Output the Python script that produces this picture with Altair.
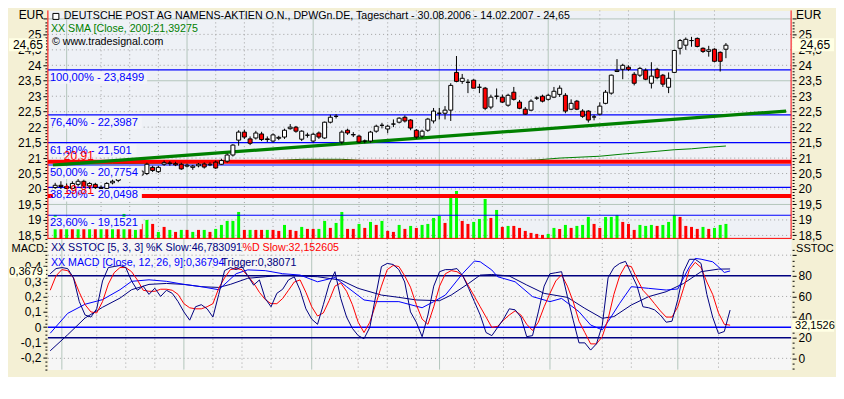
import altair as alt
import pandas as pd

FONT = "Liberation Sans"

# ---------------- data ----------------
opens = [20.05, 20.12, 20.08, 20.02, 20.15, 20.25, 20.10, 20.15, 20.05, 20.02,
         20.20, 20.28, 20.40, 20.50, 20.45, 20.45, 20.50, 20.70, 20.56, 20.80,
         20.82, 20.82, 20.80, 20.74, 20.70, 20.75, 20.81, 20.78, 20.87, 20.80,
         20.90, 21.10, 21.58, 21.84, 21.62, 21.65, 21.78, 21.62, 21.55, 21.64,
         21.68, 21.95, 22.00, 21.61, 21.74, 21.55, 21.81, 21.65, 22.16, 22.35,
         21.52, 21.90, 21.76, 21.71, 21.55, 21.55, 21.87, 22.06, 21.94, 22.10,
         22.16, 22.32, 22.23, 21.90, 21.71, 21.90, 22.20, 22.45, 22.45, 22.55,
         23.77, 23.48, 23.45, 23.52, 23.29, 23.26, 22.65, 23.00, 22.97, 22.71,
         23.13, 22.81, 22.58, 22.55, 22.94, 23.00, 22.90, 22.97, 23.06, 23.03,
         22.58, 22.84, 22.52, 22.52, 22.33, 22.42, 22.77, 23.10, 23.80, 23.87,
         23.94, 23.71, 23.68, 23.84, 23.42, 23.87, 23.68, 23.29, 23.77, 24.55,
         24.65, 24.80, 24.87, 24.55, 24.45, 24.52, 24.42, 24.52]
highs = [20.20, 20.25, 20.18, 20.25, 20.32, 20.30, 20.22, 20.20, 20.12, 20.22,
         20.30, 20.45, 20.55, 20.60, 20.60, 20.62, 20.85, 20.75, 20.75, 20.92,
         20.90, 20.88, 20.85, 20.82, 20.78, 20.84, 20.86, 20.86, 20.92, 20.98,
         21.15, 21.45, 21.90, 21.92, 21.70, 21.88, 21.85, 21.70, 21.80, 21.72,
         21.95, 22.10, 22.04, 21.90, 21.82, 21.82, 21.86, 22.18, 22.40, 22.42,
         21.90, 21.95, 21.84, 21.75, 21.60, 21.88, 22.08, 22.14, 22.08, 22.25,
         22.32, 22.38, 22.26, 21.94, 21.92, 22.30, 22.62, 22.62, 22.68, 23.42,
         24.30, 23.72, 23.55, 23.55, 23.40, 23.30, 23.05, 23.25, 23.05, 23.08,
         23.30, 22.88, 22.65, 22.90, 23.00, 23.05, 23.08, 23.30, 23.35, 23.10,
         22.90, 22.88, 22.58, 22.55, 22.40, 22.80, 23.20, 23.70, 24.20, 24.05,
         24.00, 23.78, 23.95, 23.90, 24.10, 23.92, 23.72, 23.77, 24.50, 24.85,
         24.90, 24.92, 24.90, 24.58, 24.63, 24.55, 24.45, 24.72]
lows = [19.95, 20.00, 19.95, 19.98, 20.08, 20.05, 20.00, 19.98, 19.95, 20.00,
        20.15, 20.22, 20.35, 20.40, 20.40, 20.40, 20.45, 20.55, 20.52, 20.75,
        20.75, 20.74, 20.62, 20.70, 20.62, 20.70, 20.66, 20.74, 20.65, 20.78,
        20.85, 21.05, 21.40, 21.62, 21.42, 21.60, 21.55, 21.52, 21.50, 21.58,
        21.62, 21.92, 21.82, 21.55, 21.66, 21.50, 21.62, 21.62, 22.12, 22.28,
        21.45, 21.75, 21.68, 21.48, 21.48, 21.50, 21.82, 21.96, 21.80, 22.00,
        22.12, 22.15, 21.90, 21.62, 21.66, 21.85, 22.12, 22.25, 22.25, 22.20,
        23.45, 23.40, 23.10, 23.26, 23.10, 22.55, 22.58, 22.90, 22.78, 22.66,
        22.86, 22.58, 22.40, 22.52, 22.88, 22.80, 22.86, 22.94, 22.98, 22.45,
        22.55, 22.55, 22.30, 22.15, 22.22, 22.38, 22.74, 23.05, 23.78, 23.55,
        23.82, 23.35, 23.62, 23.52, 23.25, 23.55, 23.30, 23.10, 23.75, 24.35,
        24.50, 24.60, 24.58, 24.40, 24.28, 24.10, 23.80, 24.23]
closes = [20.12, 20.08, 20.02, 20.18, 20.25, 20.10, 20.18, 20.05, 20.02, 20.18,
          20.25, 20.40, 20.50, 20.45, 20.52, 20.58, 20.80, 20.60, 20.70, 20.85,
          20.84, 20.78, 20.65, 20.77, 20.74, 20.80, 20.71, 20.80, 20.68, 20.92,
          21.10, 21.42, 21.84, 21.68, 21.48, 21.81, 21.60, 21.60, 21.75, 21.67,
          21.90, 22.00, 21.87, 21.87, 21.74, 21.77, 21.68, 22.16, 22.32, 22.35,
          21.84, 21.81, 21.75, 21.52, 21.55, 21.84, 22.03, 22.06, 22.03, 22.10,
          22.29, 22.20, 21.97, 21.68, 21.87, 22.26, 22.52, 22.45, 22.55, 23.35,
          23.48, 23.58, 23.45, 23.26, 23.29, 22.61, 22.97, 23.00, 22.81, 23.03,
          22.90, 22.61, 22.42, 22.84, 22.94, 22.84, 23.03, 23.16, 23.26, 22.52,
          22.77, 22.58, 22.35, 22.23, 22.33, 22.68, 23.13, 23.68, 23.84, 24.00,
          23.87, 23.42, 23.90, 23.55, 23.65, 23.60, 23.39, 23.58, 24.48, 24.80,
          24.84, 24.80, 24.61, 24.45, 24.50, 24.13, 24.13, 24.65]
volume = [2.4, 1.5, 1.7, 1.5, 1.6, 1.5, 1.7, 1.5, 1.6, 1.5,
          1.7, 1.5, 2.5, 1.5, 0.9, 1.5, 1.9, 1.5, 0.7, 1.2,
          0.9, 0.7, 0.9, 0.9, 0.7, 0.9, 0.9, 0.7, 1.0, 1.4,
          1.8, 1.8, 2.7, 0.9, 0.9, 0.9, 0.9, 0.9, 0.9, 0.8,
          1.4, 0.9, 0.8, 1.2, 1.0, 1.0, 1.0, 1.8, 1.1, 1.6,
          2.7, 1.0, 1.0, 1.5, 1.1, 1.7, 1.4, 1.8, 0.8, 0.7,
          1.4, 1.0, 1.3, 1.1, 1.4, 1.5, 2.1, 2.3, 1.6, 4.1,
          4.8, 1.8, 1.5, 1.7, 2.0, 4.0, 2.1, 2.9, 1.2, 1.3,
          1.3, 1.1, 0.8, 0.6, 0.5, 0.4, 0.5, 1.1, 1.0, 1.4,
          1.1, 1.3, 1.4, 2.2, 1.5, 1.1, 2.2, 2.2, 2.4, 1.7,
          1.5, 0.9, 1.4, 1.3, 1.4, 1.3, 1.4, 1.7, 2.4, 2.2,
          1.3, 1.2, 1.0, 1.2, 1.0, 1.1, 1.4, 1.5]
volume_up = [1, 0, 1, 0, 1, 0, 1, 0, 1, 0, 1, 0, 1, 0,
             1, 0, 1, 0, 1, 0, 1, 0, 1, 0, 1, 0, 1, 0, 1, 1, 1, 1, 1, 0,
             1, 0, 0, 1, 0, 0, 1, 0, 0,
             1, 0, 0, 1, 1, 0, 1, 1, 0, 0, 1, 0, 1, 0, 1, 0, 0, 1, 0, 1,
             0, 1, 1, 1, 1, 0, 1, 1, 0, 0, 1, 1, 1, 0, 1, 0, 1, 0, 0, 0,
             0, 0, 0, 1, 1,
             0, 1, 0, 1, 1, 1, 0, 0, 1, 1, 1, 0, 0, 0, 1, 1, 1, 0, 1, 1,
             1, 0, 0, 0, 0, 1, 0, 1, 1, 1]
stoch_k = [82, 87, 88, 87, 78, 55, 42, 40, 48, 75,
           88, 89, 90, 88, 75, 66, 70, 62, 68, 60,
           66, 63, 55, 45, 37, 50, 52, 48, 40, 62,
           85, 88, 86, 89, 80, 71, 76, 58, 50, 63,
           67, 76, 79, 66, 48, 38, 33, 52, 72, 84,
           58, 40, 29, 22, 19, 30, 60, 89, 92, 91,
           86, 74, 45, 35, 21, 42, 70, 84, 86, 86,
           87, 80, 68, 55, 42, 25, 22, 30, 38, 48,
           47, 40, 21, 22, 45, 70, 82, 83, 84, 60,
           37, 15, 15, 8, 14, 32, 78, 88, 92, 94,
           82, 70, 50, 49, 47, 42, 35, 36, 57, 84,
           96, 96, 92, 62, 40, 24, 26, 46.78]
stoch_d = [66, 80, 86, 85, 78, 64, 52, 45, 44, 55,
           72, 83, 88, 88, 84, 76, 66, 65, 65, 67,
           67, 66, 62, 53, 49, 48, 48, 50, 53, 68,
           78, 86, 87, 86, 80, 73, 64, 57, 53, 53,
           58, 66, 74, 76, 64, 50, 41, 44, 56, 70,
           73, 65, 52, 35, 25, 35, 52, 70, 86, 90,
           89, 80, 69, 52, 38, 33, 50, 70, 82, 85,
           84, 80, 70, 60, 50, 40, 30, 31, 37, 42,
           46, 42, 33, 27, 35, 50, 63, 75, 81, 70,
           55, 36, 25, 14, 14, 21, 38, 62, 80, 90,
           89, 77, 66, 60, 53, 46, 40, 40, 50, 68,
           86, 93, 88, 74, 62, 44, 33, 32.15]
macd_idx = [0, 3, 6, 9, 12, 14, 17, 20, 23, 26, 29, 32, 34, 37, 40, 43, 46, 49, 51, 54,
            56, 60, 64, 66, 68, 71, 73, 74, 76, 77, 80, 83, 86, 88, 91, 93, 95, 96, 98, 100,
            103, 106, 108, 110, 111, 112, 114, 115, 116, 117]
macd_val = [-0.04, 0.09, 0.15, 0.18, 0.245, 0.30, 0.31, 0.30, 0.28, 0.265,
            0.245, 0.35, 0.375, 0.37, 0.35, 0.341, 0.297, 0.325, 0.265, 0.178,
            0.167, 0.167, 0.127, 0.167, 0.21, 0.352, 0.433, 0.428, 0.374, 0.33,
            0.297, 0.2, 0.167, 0.188, 0.101, 0.014, -0.018, 0.036, 0.156, 0.265,
            0.254, 0.243, 0.25, 0.395, 0.45, 0.445, 0.428, 0.395, 0.358, 0.368]
trig_idx = [0, 3, 6, 9, 12, 14, 17, 20, 23, 26, 29, 31, 34, 37, 40, 43, 46, 50, 53, 57,
            60, 63, 67, 69, 72, 74, 76, 79, 82, 85, 89, 92, 95, 97, 100, 103, 106, 109, 112, 115, 117]
trig_val = [-0.155, -0.05, 0.06, 0.13, 0.19, 0.245, 0.28, 0.286, 0.28, 0.265,
            0.26, 0.28, 0.32, 0.33, 0.34, 0.335, 0.33, 0.308, 0.254, 0.21,
            0.195, 0.178, 0.173, 0.21, 0.286, 0.341, 0.345, 0.335, 0.276, 0.221,
            0.195, 0.123, 0.058, 0.069, 0.145, 0.2, 0.232, 0.286, 0.363, 0.38, 0.381]
sma_idx = [0, 10, 20, 30, 43, 50, 55, 60, 70, 80, 84, 88, 95, 99, 101, 105, 108, 111, 114, 117]
sma_val = [20.80, 20.82, 20.84, 20.86, 20.96, 20.96, 20.91, 20.89, 20.89, 20.91, 20.94,
           21.00, 21.06, 21.13, 21.16, 21.22, 21.27, 21.30, 21.35, 21.39]
trend_idx = [-0.4, 127.5]
trend_val = [20.77, 22.52]
fib_levels = [23.8499, 22.3987, 21.501, 20.7754, 20.0498, 19.1521]
fib_labels = ["100,00% - 23,8499", "76,40% - 22,3987", "61,80% - 21,501",
              "50,00% - 20,7754", "38,20% - 20,0498", "23,60% - 19,1521"]
mark_levels = [20.88, 19.77]
mark_labels = ["20,91", "19,81"]
xtick_idx = [2, 8, 13, 18, 23, 28, 33, 38, 45, 53, 58, 63, 67, 73, 78, 86, 95, 100, 108, 115]
xtick_lab = ["Sep", "11.", "18.", "25.", "Okt", "9.", "16.", "23.", "Nov", "13.",
             "20.", "27.", "Dez", "11.", "18.", "2007", "15.", "22.", "Feb", "12."]
month_idx = [2, 23, 45, 67, 86, 108]
price_grid_dotted = [18.5, 19, 20, 20.5, 21, 22, 22.5, 23, 24, 24.5, 25]
price_grid_solid = [19.5, 21.5, 23.5, 25.5]
stoch_grid_dotted = [0, 40, 60, 100]
stoch_levels = [80, 20]
macd_levels = [0]

TITLE = "DEUTSCHE POST AG NAMENS-AKTIEN O.N., DPWGn.DE, Tageschart - 30.08.2006 - 14.02.2007 - 24,65"
SMA_TXT = "XX SMA [Close, 200]:21,39275"
WWW_TXT = "\u00a9 www.tradesignal.com"
STO_TXT1 = "XX SSTOC [5, 3, 3] %K Slow:46,783091"
STO_TXT2 = "%D Slow:32,152605"
MACD_TXT1 = "XX MACD [Close, 12, 26, 9]:0,36794"
MACD_TXT2 = "Trigger:0,38071"

# ---------------- layout / style ----------------
W, H_UP, H_LO = 745, 229, 131
XDOM = [-0.4, 127.5]
PDOM = [18.387, 25.774]
VDOM = [0, 22.9]
MDOM = [-0.278, 0.578]
SDOM = [-10.9, 115.8]
PX_PER_DAY = W / (XDOM[1] - XDOM[0])
TXT = 10.7

BEIGE = "#F4F0D5"
UP_BG = "#EEF1F6"
LO_BG = "#F6F6F6"
BOX_BG = "#FFFFE4"
LABEL_BG = "#F3F4F8"
GRID_SOLID = "#B4C6BC"
GRID_DOT = "#A0A0A0"
NAVY = "#000080"
BLUE = "#0000FF"
RED = "#FF0000"
GREEN = "#008000"
LIME = "#00FF00"

N = len(closes)
days = list(range(N))


def xscale():
    return alt.Scale(domain=XDOM, nice=False, zero=False)


def X(field="i", axis=None):
    return alt.X(f"{field}:Q", scale=xscale(), axis=axis)


def Y(field, dom, axis=None):
    return alt.Y(f"{field}:Q", scale=alt.Scale(domain=dom, nice=False, zero=False), axis=axis)


FMT = "replace(replace(format(datum.value, '.1~f'), '.', ','), '\u2212', '-')"


def yaxis(orient, values, label_test, tick_test):
    return alt.Axis(orient=orient, values=values,
                    labelExpr=f"({label_test}) ? {FMT} : ''",
                    tickSize={"condition": {"test": tick_test, "value": 4}, "value": 2},
                    domain=False, grid=False, tickColor="black", tickWidth=1,
                    labelColor="black", labelFont=FONT, labelFontSize=12, labelPadding=2,
                    offset=1, title=None, labelOverlap=False, labelFlush=False, labelBound=False)


up_ticks = [k / 10 for k in range(184, 256)]
up_lab_test = "abs(datum.value*2 - round(datum.value*2)) < 0.001 && datum.value < 25.2"
up_tick_test = "abs(datum.value*2 - round(datum.value*2)) < 0.001"
AX_UP_L = yaxis("left", up_ticks, up_lab_test, up_tick_test)
AX_UP_R = yaxis("right", up_ticks, up_lab_test, up_tick_test)

m_ticks = [k / 40 for k in range(-11, 23)]
m_lab_test = "abs(datum.value*10 - round(datum.value*10)) < 0.001 && datum.value > -0.25 && datum.value < 0.45"
m_tick_test = "abs(datum.value*10 - round(datum.value*10)) < 0.001"
AX_M = yaxis("left", m_ticks, m_lab_test, m_tick_test)

s_ticks = [5 * k for k in range(-2, 22)]
AX_S = yaxis("right", s_ticks, "datum.value % 20 == 0 && datum.value >= 0 && datum.value <= 80",
             "datum.value % 20 == 0")

lab_arr = ["" for _ in days]
for i, lab in zip(xtick_idx, xtick_lab):
    lab_arr[i] = lab
lab_js = "[" + ",".join("'" + s + "'" for s in lab_arr) + "]"
AX_X = alt.Axis(orient="bottom", values=days, labelExpr=f"{lab_js}[datum.value]",
                tickSize={"condition": {"test": f"indexof({xtick_idx}, datum.value) >= 0", "value": 5},
                          "value": 2},
                labelAlign="left", labelPadding=3, offset=2, domain=False, grid=False,
                tickColor="black", labelColor="black", labelFont=FONT, labelFontSize=11,
                title=None, labelOverlap=False, labelFlush=False, labelBound=False)


def txt(x, y, t, color="black", align="left", size=TXT, baseline="top"):
    return alt.Chart(pd.DataFrame({"t": [t]})).mark_text(
        align=align, baseline=baseline, font=FONT, fontSize=size, color=color
    ).encode(x=alt.value(x), y=alt.value(y), text="t:N")


def box(x, x2, y, y2, fill=BOX_BG, stroke=None):
    kw = {"fill": fill}
    if stroke:
        kw.update({"stroke": stroke, "strokeWidth": 1})
    return alt.Chart(pd.DataFrame({"a": [0]})).mark_rect(**kw).encode(
        x=alt.value(x), x2=alt.value(x2), y=alt.value(y), y2=alt.value(y2))


def border(x, x2, y, y2):
    return alt.Chart(pd.DataFrame({"a": [0]})).mark_rule(color=RED, strokeWidth=1).encode(
        x=alt.value(x), x2=alt.value(x2), y=alt.value(y), y2=alt.value(y2))


week_idx = [i for i in xtick_idx if i not in month_idx]

# ---------------- frames ----------------
cdf = pd.DataFrame({"i": days, "o": opens, "h": highs, "l": lows, "c": closes,
                    "v": volume, "up": ["g" if u else "r" for u in volume_up]})
cdf["dir"] = ["w" if c >= o else "r" for o, c in zip(opens, closes)]

fib_df = pd.DataFrame({"p": fib_levels, "t": fib_labels})
fib_df["top"] = fib_df["p"] - 0.05
fib_df["bot"] = fib_df["p"] - 0.45
fib_df["x0"] = XDOM[0]
fib_df["x1"] = [XDOM[0] + (len(t) * 5.4 + 4) / PX_PER_DAY for t in fib_labels]

mark_df = pd.DataFrame({"p": mark_levels, "t": mark_labels})
ind_df = pd.DataFrame({"i": days, "k": stoch_k, "d": stoch_d})


def vgrid():
    return [
        alt.Chart(pd.DataFrame({"i": week_idx})).mark_rule(color=GRID_DOT, strokeDash=[1, 3]).encode(x=X()),
        alt.Chart(pd.DataFrame({"i": month_idx})).mark_rule(color=GRID_SOLID).encode(x=X()),
    ]


up_layers = [
    alt.Chart(pd.DataFrame({"p": price_grid_dotted})).mark_rule(color=GRID_DOT, strokeDash=[1, 3]).encode(y=Y("p", PDOM)),
    alt.Chart(pd.DataFrame({"p": price_grid_solid})).mark_rule(color=GRID_SOLID).encode(y=Y("p", PDOM)),
    *vgrid(),
    alt.Chart(cdf).mark_bar(size=3).encode(
        x=X(), y=alt.Y("v:Q", scale=alt.Scale(domain=VDOM, nice=False, zero=True), axis=None),
        color=alt.Color("up:N", scale=alt.Scale(domain=["g", "r"], range=[LIME, RED]), legend=None)),
    alt.Chart(fib_df).mark_rule(color=BLUE, strokeWidth=1.2).encode(y=Y("p", PDOM)),
    alt.Chart(pd.DataFrame({"i": sma_idx, "p": sma_val})).mark_line(color=GREEN, strokeWidth=1).encode(x=X(), y=Y("p", PDOM)),
    alt.Chart(mark_df).mark_rule(color=RED, strokeWidth=4).encode(y=Y("p", PDOM)),
    alt.Chart(pd.DataFrame({"i": trend_idx, "p": trend_val})).mark_line(color=GREEN, strokeWidth=3.2).encode(x=X(), y=Y("p", PDOM)),
    alt.Chart(cdf).mark_rule(color="black", strokeWidth=1).encode(x=X(), y=Y("l", PDOM, AX_UP_L), y2="h:Q"),
    alt.Chart(cdf).mark_bar(size=4, stroke="black", strokeWidth=1).encode(
        x=X(), y=Y("o", PDOM, AX_UP_R), y2="c:Q",
        fill=alt.Fill("dir:N", scale=alt.Scale(domain=["w", "r"], range=["white", RED]), legend=None)),
    alt.Chart(fib_df).mark_rect(fill=LABEL_BG).encode(
        x=alt.X("x0:Q", scale=xscale(), axis=None), x2="x1:Q", y=Y("top", PDOM), y2="bot:Q"),
    alt.Chart(fib_df).mark_text(align="left", baseline="top", dx=2, dy=2, color=BLUE, font=FONT, fontSize=11.2).encode(
        x=alt.value(0), y=Y("p", PDOM), text="t:N"),
    alt.Chart(mark_df).mark_text(align="left", baseline="alphabetic", dx=16, dy=-2, color=RED, font=FONT, fontSize=12).encode(
        x=alt.value(0), y=Y("p", PDOM), text="t:N"),
    box(5, 11, 3, 9, fill="white", stroke="black"),
    txt(16, 1, TITLE),
    txt(3, 14, SMA_TXT, GREEN),
    txt(4, 27, WWW_TXT),
    txt(-4, 0, "EUR", align="right", size=12),
    txt(750, 0, "EUR", size=12),
    border(0, 0, 0, H_UP),
    border(W, W, 0, H_UP),
    border(0, W, H_UP - 0.5, H_UP - 0.5),
    box(-39, -2, 28, 41),
    box(746, 788, 28, 41),
    txt(-5, 34.5, "24,65", align="right", size=12, baseline="middle"),
    txt(754, 34.5, "24,65", size=12, baseline="middle"),
]

upper = alt.layer(*up_layers).resolve_scale(y="independent").properties(
    width=W, height=H_UP, view=alt.ViewBackground(fill=UP_BG, stroke="transparent"))

lo_layers = [
    alt.Chart(pd.DataFrame({"s": stoch_grid_dotted})).mark_rule(color=GRID_DOT, strokeDash=[1, 3]).encode(y=Y("s", SDOM)),
    *vgrid(),
    alt.Chart(pd.DataFrame({"s": stoch_levels})).mark_rule(color=NAVY, strokeWidth=1.5).encode(y=Y("s", SDOM)),
    alt.Chart(pd.DataFrame({"m": macd_levels})).mark_rule(color=BLUE, strokeWidth=1.5).encode(y=Y("m", MDOM)),
    alt.Chart(pd.DataFrame({"i": trig_idx, "v": trig_val})).mark_line(color=NAVY, strokeWidth=1).encode(x=X(), y=Y("v", MDOM)),
    alt.Chart(pd.DataFrame({"i": macd_idx, "v": macd_val})).mark_line(color=BLUE, strokeWidth=1).encode(x=X(), y=Y("v", MDOM, AX_M)),
    alt.Chart(ind_df).mark_line(color=RED, strokeWidth=1).encode(x=X(), y=Y("d", SDOM)),
    alt.Chart(ind_df).mark_line(color=NAVY, strokeWidth=1).encode(x=X("i", AX_X), y=Y("k", SDOM, AX_S)),
    txt(-4, 4, "MACD", align="right", size=11),
    txt(750, 4, "SSTOC", size=11),
    txt(3, 4, STO_TXT1, NAVY),
    txt(195, 4, STO_TXT2, RED),
    txt(3, 19, MACD_TXT1, BLUE),
    txt(174, 19, MACD_TXT2, NAVY),
    box(-39, -2, 28, 39),
    box(746, 788, 81, 93),
    txt(-5, 33.5, "0,3679", align="right", size=11, baseline="middle"),
    txt(749, 87, "32,1526", size=11, baseline="middle"),
]

lower = alt.layer(*lo_layers).resolve_scale(y="independent").properties(
    width=W, height=H_LO, view=alt.ViewBackground(fill=LO_BG, stroke="transparent"))

chart = alt.vconcat(upper, lower, spacing=0, bounds="flush").properties(
    background=BEIGE, padding=0)

chart.save("out.html", embed_options={"renderer": "svg", "actions": False})
